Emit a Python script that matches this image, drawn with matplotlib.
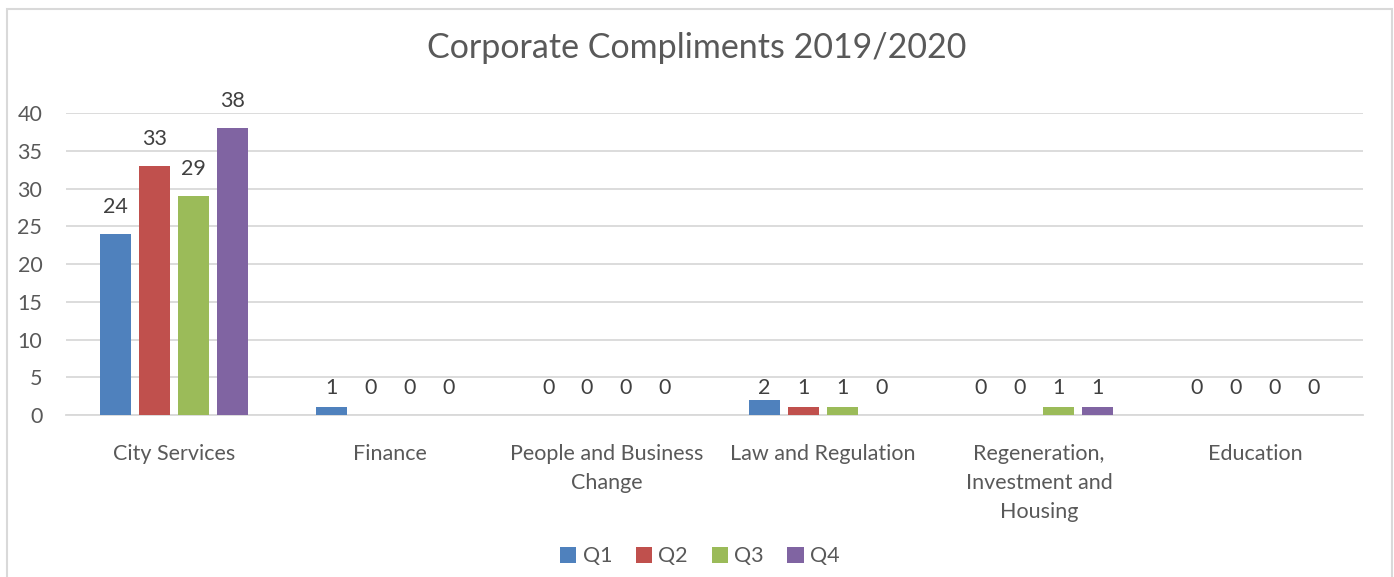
import matplotlib.pyplot as plt
import numpy as np
from matplotlib.patches import Rectangle

departments = ['City Services', 'Finance', 'People and Business\nChange',
               'Law and Regulation', 'Regeneration,\nInvestment and\nHousing',
               'Education']
quarters = ['Q1', 'Q2', 'Q3', 'Q4']
q1 = [24, 1, 0, 2, 0, 0]
q2 = [33, 0, 0, 1, 0, 0]
q3 = [29, 0, 0, 1, 1, 0]
q4 = [38, 0, 0, 0, 1, 0]
colours = ['#4f81bd', '#c0504d', '#9bbb59', '#8064a2']

plt.rcParams['font.family'] = ['Lato', 'DejaVu Sans']
text_grey = '#595959'

fig = plt.figure(figsize=(13.94, 5.77), dpi=100)
ax = fig.add_axes([0.0473, 0.2808, 0.9307, 0.5232])

x = np.arange(len(departments))
step = 0.18
width = 0.144
for i, (vals, name) in enumerate(zip([q1, q2, q3, q4], quarters)):
    pos = x + (i - 1.5) * step
    ax.bar(pos, vals, width, color=colours[i], label=name, zorder=3)
    for p, v in zip(pos, vals):
        # tiny bars keep their labels on one row just above the baseline
        anchor = v if v >= 5 else 0
        ax.annotate(str(v), (p, anchor), xytext=(0, 19.5),
                    textcoords='offset points', ha='center', va='center',
                    fontsize=15.5, color='#404040')

ax.set_xlim(-0.5, len(departments) - 0.5)
ax.set_ylim(0, 40)
ax.set_yticks(range(0, 41, 5))
ax.set_xticks(x)
ax.set_xticklabels(departments, linespacing=1.55)
ax.tick_params(axis='both', length=0, labelsize=15.5, labelcolor=text_grey)
ax.tick_params(axis='x', pad=21)
ax.tick_params(axis='y', pad=17)
ax.grid(axis='y', color='#d9d9d9', linewidth=1.3, zorder=0)
for s in ['top', 'right', 'left']:
    ax.spines[s].set_visible(False)
ax.spines['bottom'].set_color('#d9d9d9')
ax.spines['bottom'].set_linewidth(1.3)

fig.text(0.5, 0.916, 'Corporate Compliments 2019/2020', ha='center',
         va='center', fontsize=24.5, color=text_grey)

fig.legend(loc='center', bbox_to_anchor=(0.502, 0.036), ncol=4, frameon=False,
           fontsize=15.5, handlelength=0.75, handleheight=0.75,
           columnspacing=1.1, handletextpad=0.3, labelcolor=text_grey)

fig.patches.append(Rectangle((7 / 1394, -0.05), 1385 / 1394, 1.05 - 9 / 577,
                             transform=fig.transFigure, fill=False,
                             edgecolor='#d9d9d9', linewidth=1.5))

fig.savefig('out.png', dpi=100)
